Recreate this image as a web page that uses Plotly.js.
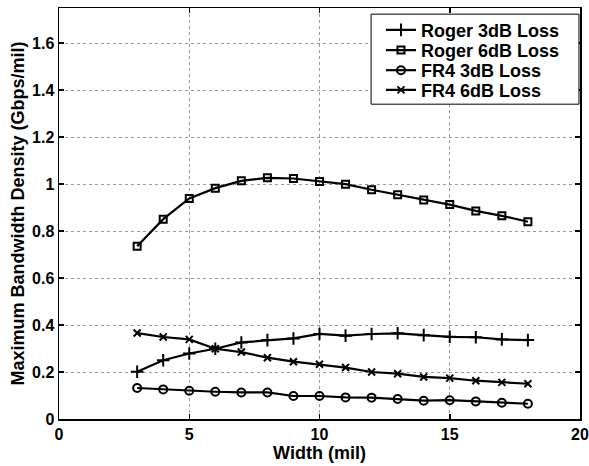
<!DOCTYPE html>
<html>
<head>
<meta charset="utf-8">
<script src="https://cdn.plot.ly/plotly-3.0.1.min.js"></script>
<style>html,body{margin:0;padding:0;background:#fff}#chart{width:589px;height:466px}</style>
</head>
<body>
<div id="chart"></div>
<script>
const widths = [3,4,5,6,7,8,9,10,11,12,13,14,15,16,17,18];
const roger3dB = [0.201,0.250,0.279,0.299,0.326,0.336,0.343,0.362,0.355,0.362,0.365,0.357,0.350,0.348,0.339,0.336];
const roger6dB = [0.736,0.851,0.939,0.983,1.014,1.027,1.024,1.011,1.000,0.976,0.955,0.933,0.913,0.886,0.865,0.840];
const fr4_3dB = [0.132,0.126,0.120,0.116,0.113,0.113,0.098,0.098,0.092,0.091,0.085,0.078,0.080,0.075,0.069,0.065];
const fr4_6dB = [0.366,0.349,0.339,0.299,0.285,0.261,0.244,0.233,0.219,0.200,0.193,0.179,0.174,0.163,0.156,0.150];
const seriesNames = ['Roger 3dB Loss','Roger 6dB Loss','FR4 3dB Loss','FR4 6dB Loss'];
const xTicks = [0,5,10,15,20];
const yTicks = [0,0.2,0.4,0.6,0.8,1,1.2,1.4,1.6];
const yTickLabels = ['0','0.2','0.4','0.6','0.8','1','1.2','1.4','1.6'];

const fam = 'Liberation Sans, Arial, sans-serif';
const tickFnt = {family:fam, size:16, color:'#000', weight:'bold'};
const titleFnt = {family:fam, size:18, color:'#000', weight:'bold'};
const symbols = ['cross-thin-open','square-open','circle-open','x-thin-open'];
const sizes = [9,7,8,7];
const legendIds = ['legend','legend2','legend3','legend4'];
const data = [roger3dB, roger6dB, fr4_3dB, fr4_6dB].map((ys,i)=>({
  x: widths, y: ys, name: seriesNames[i], type:'scatter', mode:'lines+markers',
  legend: legendIds[i],
  line:{color:'#000', width:2.2},
  marker:{symbol:symbols[i], size:sizes[i], color:'#000', line:{color:'#000', width:2}}
}));

const axCommon = {
  showline:true, linecolor:'#000', linewidth:1.5, mirror:'ticks',
  ticks:'inside', ticklen:5, tickwidth:1.5, tickcolor:'#000',
  showgrid:true, gridcolor:'#999', griddash:'dot', gridwidth:1,
  zeroline:false, tickfont:tickFnt
};
const layout = {
  width:589, height:466,
  margin:{l:59, r:9, t:8, b:47},
  paper_bgcolor:'#fff', plot_bgcolor:'#fff',
  showlegend:true,
  font: tickFnt,
  xaxis: Object.assign({}, axCommon, {
    range:[0,20], tickvals:xTicks, ticktext:xTicks.map(String),
    title:{text:'Width (mil)', font:titleFnt, standoff:0}
  }),
  yaxis: Object.assign({}, axCommon, {
    range:[0,1.75], tickvals:yTicks, ticktext:yTickLabels,
    title:{text:'Maximum Bandwidth Density (Gbps/mil)', font:titleFnt, standoff:2}
  }),
  shapes:[{type:'rect', xref:'paper', yref:'paper', x0:0.599, x1:0.998, y0:0.766, y1:0.985,
           fillcolor:'#fff', line:{color:'#000', width:1}, layer:'above'}]
};
const legendY = [0.946, 0.897, 0.848, 0.800];
legendIds.forEach((id,i)=>{
  layout[id] = {x:0.618, xanchor:'left', y:legendY[i], yanchor:'middle',
    bgcolor:'rgba(0,0,0,0)', borderwidth:0, font:titleFnt, itemwidth:30};
});
Plotly.newPlot('chart', data, layout, {displayModeBar:false, staticPlot:true});
</script>
</body>
</html>
